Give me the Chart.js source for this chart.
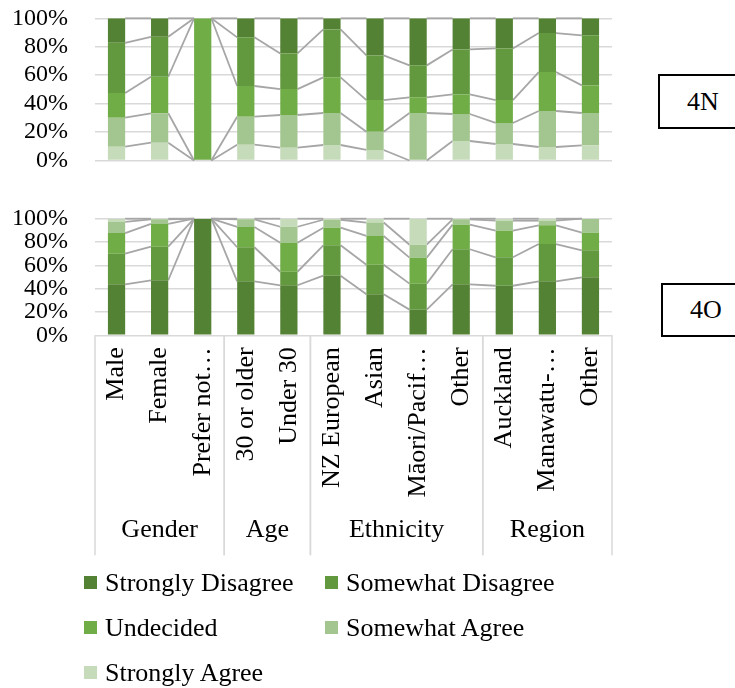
<!DOCTYPE html>
<html>
<head>
<meta charset="utf-8">
<script src="https://cdn.jsdelivr.net/npm/chart.js@4"></script>
<style>
  body { margin: 0; background: #fff; font-family: "Liberation Serif", "Times New Roman", serif; }
  #wrap { position: relative; width: 735px; height: 688px; overflow: hidden; }
  canvas { position: absolute; left: 0; }
  .tag { position: absolute; border: 2px solid #000; font-size: 26px; display: flex;
         align-items: center; justify-content: center; box-sizing: border-box; }
  #legend { position: absolute; left: 84px; top: 560px; display: grid;
            grid-template-columns: 241px auto; grid-auto-rows: 45px; font-size: 26px; }
  #legend div { display: flex; align-items: center; }
  #legend span { display: inline-block; width: 13px; height: 13px; margin-right: 8px; }
</style>
</head>
<body>
<div id="wrap">
  <canvas id="c4n" width="640" height="180" style="top:0"></canvas>
  <canvas id="c4o" width="640" height="380" style="top:190px"></canvas>
  <div class="tag" style="left:658px;top:74px;width:90px;height:55px">4N</div>
  <div class="tag" style="left:661px;top:283px;width:90px;height:54px">4O</div>
  <div id="legend"></div>
</div>
<script>
const categories = ['Male', 'Female', 'Prefer not…', '30 or older', 'Under 30',
  'NZ European', 'Asian', 'Māori/Pacif…', 'Other', 'Auckland', 'Manawatu-…', 'Other'];
const groups = ['Gender', 'Age', 'Ethnicity', 'Region'];
const groupSizes = [3, 2, 4, 3];
const seriesNames = ['Strongly Disagree', 'Somewhat Disagree', 'Undecided', 'Somewhat Agree', 'Strongly Agree'];
const seriesColors = ['#548235', '#62993e', '#70ad47', '#a3c58f', '#c5dbba'];
const yTicks = [0, 20, 40, 60, 80, 100];

// 4N (percent)
const n_strongDis = [17.2, 13.0, 0, 13.4, 24.7, 7.8, 26.1, 33.1, 21.9, 21.2, 10.4, 12.0];
const n_someDis   = [35.4, 28.1, 0, 34.2, 25.1, 33.7, 31.4, 22.5, 31.6, 36.3, 27.4, 35.2];
const n_undecided = [17.3, 25.7, 100, 21.6, 18.2, 25.1, 22.3, 11.0, 13.8, 16.1, 27.4, 19.4];
const n_someAgr   = [20.4, 20.7, 0, 19.7, 23.0, 22.5, 12.8, 33.4, 19.0, 14.8, 25.3, 22.7];
const n_strongAgr = [9.7, 12.5, 0, 11.1, 9.0, 10.9, 7.4, 0, 13.7, 11.6, 9.5, 10.7];

// 4O (percent)
const o_strongDis = [43.7, 47.2, 100, 46.3, 42.9, 51.1, 35.2, 22.0, 43.7, 42.5, 46.3, 49.7];
const o_someDis   = [26.3, 28.8, 0, 29.2, 11.6, 26.1, 25.3, 22.3, 30.1, 24.4, 32.0, 23.2];
const o_undecided = [17.7, 19.5, 0, 17.4, 24.9, 15.1, 24.7, 22.3, 21.1, 22.8, 16.0, 15.1];
const o_someAgr   = [9.5, 4.0, 0, 6.6, 13.7, 6.8, 11.5, 11.1, 4.6, 8.6, 4.0, 12.0];
const o_strongAgr = [2.8, 0.5, 0, 0.5, 6.9, 0.9, 3.3, 22.3, 0.5, 1.7, 1.7, 0];

const FONT = "'Liberation Serif', 'Times New Roman', serif";

// grey lines joining the tops of each series between neighbouring bars
const seriesLines = {
  id: 'seriesLines',
  beforeDatasetsDraw(chart) {
    const ctx = chart.ctx;
    ctx.save();
    ctx.strokeStyle = '#a6a6a6';
    ctx.lineWidth = 1.8;
    chart.data.datasets.forEach((ds, i) => {
      const bars = chart.getDatasetMeta(i).data;
      for (let j = 0; j < bars.length - 1; j++) {
        const a = bars[j], b = bars[j + 1];
        ctx.beginPath();
        ctx.moveTo(a.x + a.width / 2, a.y);
        ctx.lineTo(b.x - b.width / 2, b.y);
        ctx.stroke();
      }
    });
    ctx.restore();
  }
};

// second level of the category axis (Gender / Age / ...)
const groupAxis = {
  id: 'groupAxis',
  afterDraw(chart) {
    const x = chart.scales.x, ctx = chart.ctx;
    const top = chart.chartArea.bottom, bottom = top + 220;
    ctx.save();
    ctx.strokeStyle = '#d9d9d9';
    ctx.lineWidth = 1.5;
    ctx.fillStyle = '#000';
    ctx.font = '26px ' + FONT;
    ctx.textAlign = 'center';
    ctx.textBaseline = 'middle';
    let start = 0;
    groupSizes.forEach((n, g) => {
      const l = x.getPixelForValue(start - 0.5);
      const r = x.getPixelForValue(start + n - 0.5);
      ctx.beginPath();
      ctx.moveTo(l, top); ctx.lineTo(l, bottom);
      ctx.moveTo(r, top); ctx.lineTo(r, bottom);
      ctx.stroke();
      ctx.fillText(groups[g], (l + r) / 2, top + 195);
      start += n;
    });
    ctx.restore();
  }
};

function yScale() {
  return {
    min: 0, max: 100, stacked: true,
    afterBuildTicks(s) { s.ticks = yTicks.map(v => ({ value: v })); },
    afterFit(s) { s.width = 95; s.paddingTop = 0; s.paddingBottom = 0; },
    border: { display: false },
    grid: { color: '#d9d9d9', lineWidth: 1.5, drawTicks: false },
    ticks: { padding: 27, color: '#000', font: { family: FONT, size: 24 }, autoSkip: false,
             callback: v => v + '%' }
  };
}

function makeSets(list) {
  return list.map(([data, k]) => ({
    label: seriesNames[k], data: data, backgroundColor: seriesColors[k],
    barPercentage: 0.4, categoryPercentage: 1.0
  }));
}

new Chart(document.getElementById('c4n'), {
  type: 'bar',
  data: {
    labels: categories,
    datasets: makeSets([[n_strongAgr, 4], [n_someAgr, 3], [n_undecided, 2], [n_someDis, 1], [n_strongDis, 0]])
  },
  options: {
    responsive: false, animation: false,
    layout: { padding: { left: 0, right: 28, top: 18.3, bottom: 19.5 } },
    plugins: { legend: { display: false }, tooltip: { enabled: false } },
    scales: {
      x: { stacked: true, display: false },
      y: yScale()
    }
  },
  plugins: [seriesLines]
});

new Chart(document.getElementById('c4o'), {
  type: 'bar',
  data: {
    labels: categories,
    datasets: makeSets([[o_strongDis, 0], [o_someDis, 1], [o_undecided, 2], [o_someAgr, 3], [o_strongAgr, 4]])
  },
  options: {
    responsive: false, animation: false,
    layout: { padding: { left: 0, right: 28, top: 28.7, bottom: 0 } },
    plugins: { legend: { display: false }, tooltip: { enabled: false } },
    scales: {
      x: {
        stacked: true,
        afterFit(s) { s.height = 234.7; },
        border: { display: false },
        grid: { display: false, drawTicks: false },
        ticks: { color: '#000', font: { family: FONT, size: 26 }, padding: 12,
                 maxRotation: 90, minRotation: 90, autoSkip: false }
      },
      y: yScale()
    }
  },
  plugins: [seriesLines, groupAxis]
});

const legend = document.getElementById('legend');
seriesNames.forEach((name, k) => {
  const d = document.createElement('div');
  d.innerHTML = '<span style="background:' + seriesColors[k] + '"></span>' + name;
  legend.appendChild(d);
});
</script>
</body>
</html>
